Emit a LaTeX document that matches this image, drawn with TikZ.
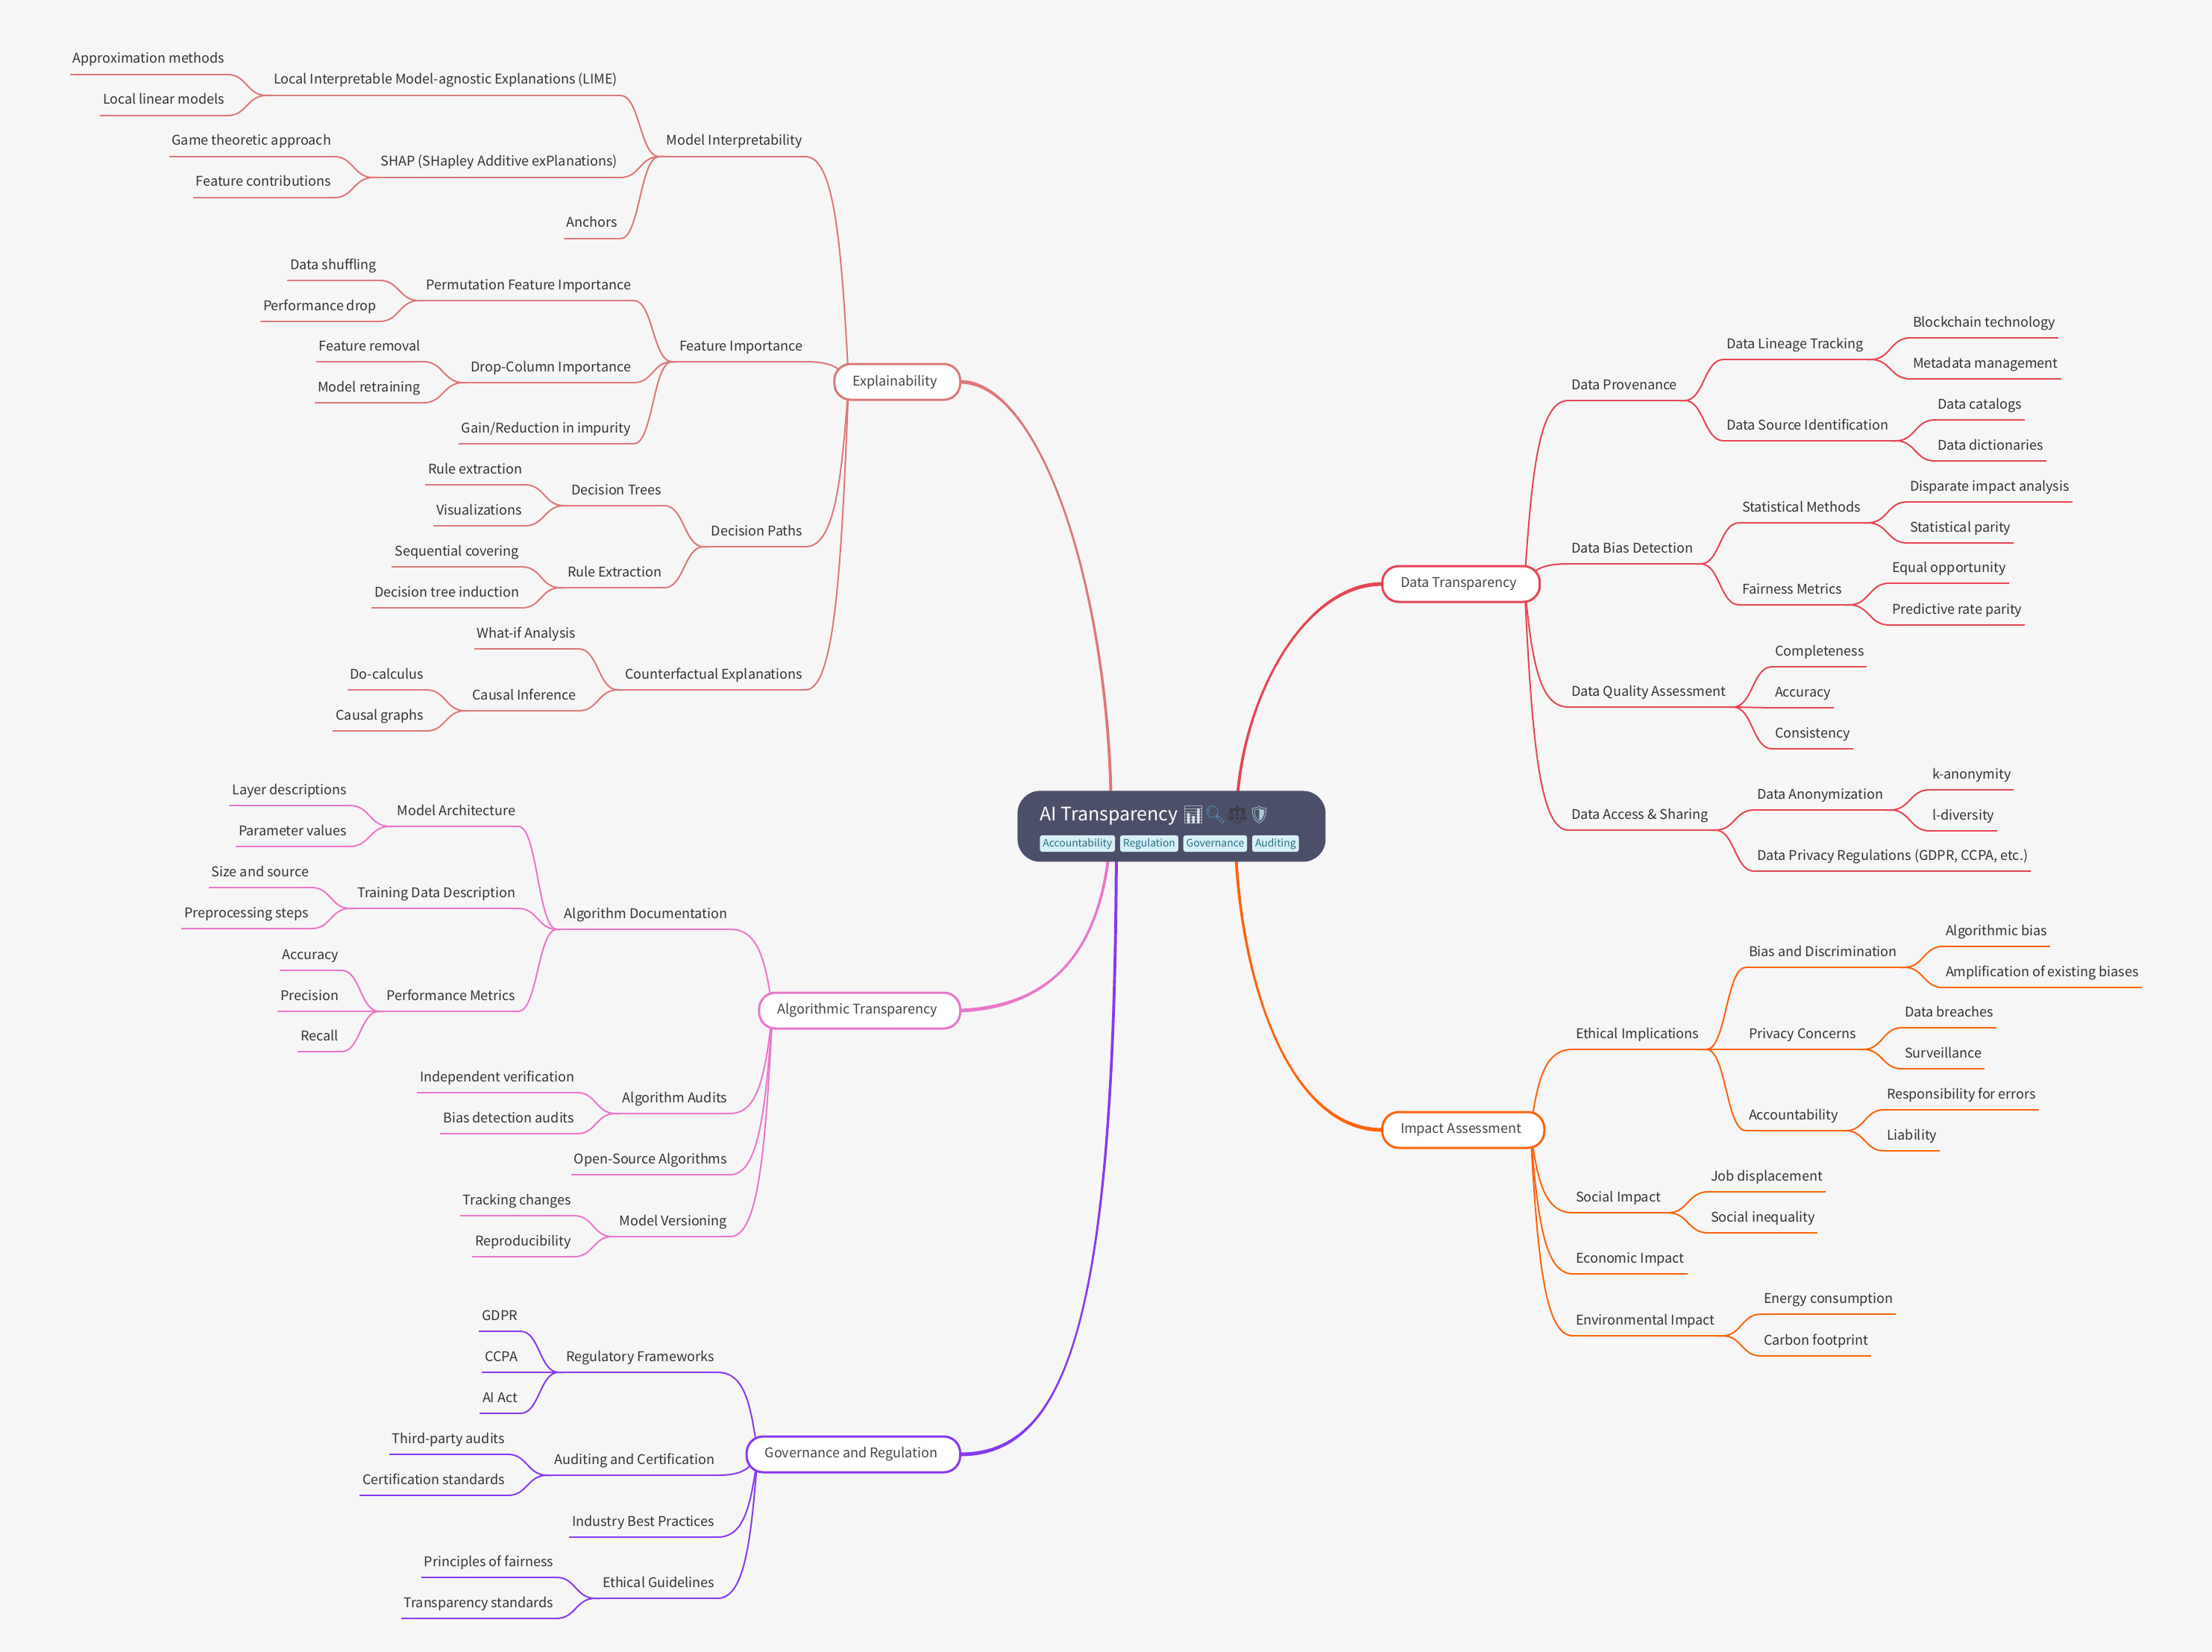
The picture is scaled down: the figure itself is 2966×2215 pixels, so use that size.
\documentclass[tikz,border=0pt]{standalone}
\usepackage{fontspec}
\setmainfont{Noto Sans CJK SC}
\newfontfamily\emojifont{Noto Emoji}
\usetikzlibrary{positioning,calc}
\definecolor{pagebg}{HTML}{F6F6F6}
\definecolor{rootbg}{HTML}{4C4F69}
\definecolor{flamingo}{HTML}{DD7878}
\definecolor{pink}{HTML}{EA76CB}
\definecolor{mauve}{HTML}{8839EF}
\definecolor{maroon}{HTML}{E64553}
\definecolor{peach}{HTML}{FE640B}
\definecolor{itemink}{HTML}{333333}
\definecolor{topicink}{HTML}{444446}
\definecolor{tagbg}{HTML}{D6F0F8}
\definecolor{tagink}{HTML}{276F86}
\definecolor{chartcol}{HTML}{DDE6EC}
\definecolor{lenscol}{HTML}{4F94C8}
\definecolor{scalecol}{HTML}{33333A}
\definecolor{shieldcol}{HTML}{A9CCD6}
\tikzset{lnode/.style={anchor=south east,text=itemink,inner xsep=2pt,inner ysep=0pt,outer sep=0pt,
	 font=\fontsize{9}{11}\selectfont,text height=8pt,text depth=7.5pt,line width=1pt,
	 append after command={(\tikzlastnode.south west) edge[line width=1pt] (\tikzlastnode.south east)}},
	 rnode/.style={lnode,anchor=south west},
	 topic/.style={rectangle,rounded corners=11pt,draw,fill=white,line width=1.5pt,text=topicink,outer sep=0pt,
	 inner xsep=13.75pt,minimum height=24pt,font=\fontsize{9}{11}\selectfont,
	 execute at begin node=\kern-1.5pt,execute at end node=\kern1.5pt},
	 tagnode/.style={rectangle,rounded corners=1.5pt,fill=tagbg,text=tagink,inner xsep=2pt,inner ysep=0pt,
	 minimum height=11pt,text height=5.5pt,text depth=1.5pt,font=\fontsize{6.95}{9}\selectfont},
	 slink/.style={line width=1pt,to path={let \p1=(\tikztostart),\p2=(\tikztotarget) in
	 -- ({\x1+#1},\y1) .. controls ({(\x1+#1+\x2)/2},\y1) and ({(\x1+#1+\x2)/2},\y2) .. (\tikztotarget)}},
	 llink/.style={slink=-3pt},
	 rlink/.style={slink=3pt},
	 vlink/.style={line width=1pt,to path={let \p1=(\tikztostart),\p2=(\tikztotarget) in
	 .. controls ({\x1+.17*(\x2-\x1)},{\y1+.62*(\y2-\y1)}) and ({\x2+.67*(\x1-\x2)},\y2) .. (\tikztotarget)}},
	 node distance = 3pt
	 }
\begin{document}
\begin{tikzpicture}[x=0.5pt,y=-0.5pt]
\fill[pagebg] (0,0) rectangle (2966,2215);
\useasboundingbox (0,0) rectangle (2966,2215);

% Explainability
\begin{scope}[color=flamingo]
	\coordinate (explorg) at (1138,512);
	\node[lnode] (approx) at (305,100) {Approximation methods};
	\node[lnode] (linear) at (305,155) {Local linear models};
	\node[lnode] (lime) at (832,128) {Local Interpretable Model-agnostic Explanations (LIME)};
	\node[lnode] (game) at (448,210) {Game theoretic approach};
	\node[lnode] (contrib) at (448,265) {Feature contributions};
	\node[lnode] (shap) at (832,238) {SHAP (SHapley Additive exPlanations)};
	\node[lnode] (anchors) at (832,320) {Anchors};
	\node[lnode] (interp) at (1080,210) {Model Interpretability};
	\node[lnode] (shuffle) at (509,376) {Data shuffling};
	\node[lnode] (drop) at (509,431) {Performance drop};
	\node[lnode] (perm) at (850,403) {Permutation Feature Importance};
	\node[lnode] (removal) at (568,485) {Feature removal};
	\node[lnode] (retrain) at (568,540) {Model retraining};
	\node[lnode] (dropcol) at (850,513) {Drop-Column Importance};
	\node[lnode] (gain) at (850,595) {Gain/Reduction in impurity};
	\node[lnode] (featimp) at (1080,485) {Feature Importance};
	\node[lnode] (ruleext) at (704,650) {Rule extraction};
	\node[lnode] (visual) at (704,705) {Visualizations};
	\node[lnode] (dectrees) at (891,678) {Decision Trees};
	\node[lnode] (seqcov) at (700,760) {Sequential covering};
	\node[lnode] (induct) at (700,815) {Decision tree induction};
	\node[lnode] (rules) at (891,788) {Rule Extraction};
	\node[lnode] (paths) at (1080,733) {Decision Paths};
	\node[lnode] (whatif) at (776,870) {What-if Analysis};
	\node[lnode] (docalc) at (572,925) {Do-calculus};
	\node[lnode] (graphs) at (572,980) {Causal graphs};
	\node[lnode] (causal) at (776,953) {Causal Inference};
	\node[lnode] (counter) at (1080,925) {Counterfactual Explanations};
	\draw[llink] (lime.south west) to (approx.south east);
	\draw[llink] (lime.south west) to (linear.south east);
	\draw[llink] (shap.south west) to (game.south east);
	\draw[llink] (shap.south west) to (contrib.south east);
	\draw[llink] (interp.south west) to (lime.south east);
	\draw[llink] (interp.south west) to (shap.south east);
	\draw[llink] (interp.south west) to (anchors.south east);
	\draw[llink] (perm.south west) to (shuffle.south east);
	\draw[llink] (perm.south west) to (drop.south east);
	\draw[llink] (dropcol.south west) to (removal.south east);
	\draw[llink] (dropcol.south west) to (retrain.south east);
	\draw[llink] (featimp.south west) to (perm.south east);
	\draw[llink] (featimp.south west) to (dropcol.south east);
	\draw[llink] (featimp.south west) to (gain.south east);
	\draw[llink] (dectrees.south west) to (ruleext.south east);
	\draw[llink] (dectrees.south west) to (visual.south east);
	\draw[llink] (rules.south west) to (seqcov.south east);
	\draw[llink] (rules.south west) to (induct.south east);
	\draw[llink] (paths.south west) to (dectrees.south east);
	\draw[llink] (paths.south west) to (rules.south east);
	\draw[llink] (causal.south west) to (docalc.south east);
	\draw[llink] (causal.south west) to (graphs.south east);
	\draw[llink] (counter.south west) to (whatif.south east);
	\draw[llink] (counter.south west) to (causal.south east);
	\draw[vlink] (explorg) to (interp.south east);
	\draw[vlink] (explorg) to (featimp.south east);
	\draw[vlink] (explorg) to (paths.south east);
	\draw[vlink] (explorg) to (counter.south east);
	\node[topic,anchor=east] (expl) at (1287.5,512) {Explainability};
\end{scope}

% Algorithmic Transparency
\begin{scope}[color=pink]
	\coordinate (algoorg) at (1036,1355);
	\node[lnode] (layer) at (469,1080) {Layer descriptions};
	\node[lnode] (param) at (469,1135) {Parameter values};
	\node[lnode] (arch) at (695,1108) {Model Architecture};
	\node[lnode] (size) at (418,1190) {Size and source};
	\node[lnode] (prep) at (418,1245) {Preprocessing steps};
	\node[lnode] (train) at (695,1218) {Training Data Description};
	\node[lnode] (acc) at (458,1301) {Accuracy};
	\node[lnode] (prec) at (458,1356) {Precision};
	\node[lnode] (recall) at (458,1410) {Recall};
	\node[lnode] (perf) at (695,1356) {Performance Metrics};
	\node[lnode] (algodoc) at (979,1246) {Algorithm Documentation};
	\node[lnode] (indep) at (774,1465) {Independent verification};
	\node[lnode] (biasaud) at (774,1520) {Bias detection audits};
	\node[lnode] (audits) at (979,1493) {Algorithm Audits};
	\node[lnode] (opensrc) at (979,1575) {Open-Source Algorithms};
	\node[lnode] (track) at (770,1630) {Tracking changes};
	\node[lnode] (repro) at (770,1685) {Reproducibility};
	\node[lnode] (version) at (979,1658) {Model Versioning};
	\draw[llink] (arch.south west) to (layer.south east);
	\draw[llink] (arch.south west) to (param.south east);
	\draw[llink] (train.south west) to (size.south east);
	\draw[llink] (train.south west) to (prep.south east);
	\draw[llink] (perf.south west) to (acc.south east);
	\draw[llink] (perf.south west) to (prec.south east);
	\draw[llink] (perf.south west) to (recall.south east);
	\draw[llink] (algodoc.south west) to (arch.south east);
	\draw[llink] (algodoc.south west) to (train.south east);
	\draw[llink] (algodoc.south west) to (perf.south east);
	\draw[llink] (audits.south west) to (indep.south east);
	\draw[llink] (audits.south west) to (biasaud.south east);
	\draw[llink] (version.south west) to (track.south east);
	\draw[llink] (version.south west) to (repro.south east);
	\draw[vlink] (algoorg) to (algodoc.south east);
	\draw[vlink] (algoorg) to (audits.south east);
	\draw[vlink] (algoorg) to (opensrc.south east);
	\draw[vlink] (algoorg) to (version.south east);
	\node[topic,anchor=east] (algo) at (1287.5,1355) {Algorithmic Transparency};
\end{scope}

% Governance and Regulation
\begin{scope}[color=mauve]
	\coordinate (govorg) at (1016,1950);
	\node[lnode] (gdpr) at (698,1785) {GDPR};
	\node[lnode] (ccpa) at (698,1840) {CCPA};
	\node[lnode] (aiact) at (698,1895) {AI Act};
	\node[lnode] (frame) at (962,1840) {Regulatory Frameworks};
	\node[lnode] (third) at (681,1950) {Third-party audits};
	\node[lnode] (certstd) at (681,2005) {Certification standards};
	\node[lnode] (audcert) at (962,1978) {Auditing and Certification};
	\node[lnode] (best) at (962,2061) {Industry Best Practices};
	\node[lnode] (fair) at (746,2115) {Principles of fairness};
	\node[lnode] (transp) at (746,2170) {Transparency standards};
	\node[lnode] (ethical) at (962,2143) {Ethical Guidelines};
	\draw[llink] (frame.south west) to (gdpr.south east);
	\draw[llink] (frame.south west) to (ccpa.south east);
	\draw[llink] (frame.south west) to (aiact.south east);
	\draw[llink] (audcert.south west) to (third.south east);
	\draw[llink] (audcert.south west) to (certstd.south east);
	\draw[llink] (ethical.south west) to (fair.south east);
	\draw[llink] (ethical.south west) to (transp.south east);
	\draw[vlink] (govorg) to (frame.south east);
	\draw[vlink] (govorg) to (audcert.south east);
	\draw[vlink] (govorg) to (best.south east);
	\draw[vlink] (govorg) to (ethical.south east);
	\node[topic,anchor=east] (gov) at (1287.5,1950) {Governance and Regulation};
\end{scope}

% Data Transparency
\begin{scope}[color=maroon]
	\coordinate (dataorg) at (2044,783);
	\node[rnode] (prov) at (2103,537) {Data Provenance};
	\node[rnode] (lineage) at (2311,482) {Data Lineage Tracking};
	\node[rnode] (source) at (2311,591) {Data Source Identification};
	\node[rnode] (chain) at (2561,453) {Blockchain technology};
	\node[rnode] (meta) at (2561,508) {Metadata management};
	\node[rnode] (catalog) at (2594,563) {Data catalogs};
	\node[rnode] (dict) at (2594,618) {Data dictionaries};
	\node[rnode] (biasdet) at (2103,756) {Data Bias Detection};
	\node[rnode] (stat) at (2332,701) {Statistical Methods};
	\node[rnode] (fairm) at (2332,811) {Fairness Metrics};
	\node[rnode] (dispar) at (2557,673) {Disparate impact analysis};
	\node[rnode] (parity) at (2557,728) {Statistical parity};
	\node[rnode] (equal) at (2533,782) {Equal opportunity};
	\node[rnode] (predict) at (2533,838) {Predictive rate parity};
	\node[rnode] (quality) at (2103,948) {Data Quality Assessment};
	\node[rnode] (complete) at (2376,894) {Completeness};
	\node[rnode] (accur) at (2376,949) {Accuracy};
	\node[rnode] (consist) at (2376,1004) {Consistency};
	\node[rnode] (access) at (2103,1113) {Data Access \& Sharing};
	\node[rnode] (anon) at (2352,1086) {Data Anonymization};
	\node[rnode] (privreg) at (2352,1168) {Data Privacy Regulations (GDPR, CCPA, etc.)};
	\node[rnode] (kanon) at (2587,1059) {k-anonymity};
	\node[rnode] (ldiv) at (2587,1114) {l-diversity};
	\draw[rlink] (prov.south east) to (lineage.south west);
	\draw[rlink] (prov.south east) to (source.south west);
	\draw[rlink] (lineage.south east) to (chain.south west);
	\draw[rlink] (lineage.south east) to (meta.south west);
	\draw[rlink] (source.south east) to (catalog.south west);
	\draw[rlink] (source.south east) to (dict.south west);
	\draw[rlink] (biasdet.south east) to (stat.south west);
	\draw[rlink] (biasdet.south east) to (fairm.south west);
	\draw[rlink] (stat.south east) to (dispar.south west);
	\draw[rlink] (stat.south east) to (parity.south west);
	\draw[rlink] (fairm.south east) to (equal.south west);
	\draw[rlink] (fairm.south east) to (predict.south west);
	\draw[rlink] (quality.south east) to (complete.south west);
	\draw[rlink] (quality.south east) to (accur.south west);
	\draw[rlink] (quality.south east) to (consist.south west);
	\draw[rlink] (access.south east) to (anon.south west);
	\draw[rlink] (access.south east) to (privreg.south west);
	\draw[rlink] (anon.south east) to (kanon.south west);
	\draw[rlink] (anon.south east) to (ldiv.south west);
	\draw[vlink] (dataorg) to (prov.south west);
	\draw[vlink] (dataorg) to (biasdet.south west);
	\draw[vlink] (dataorg) to (quality.south west);
	\draw[vlink] (dataorg) to (access.south west);
	\node[topic,anchor=west] (data) at (1853.5,783) {Data Transparency};
\end{scope}

% Impact Assessment
\begin{scope}[color=peach]
	\coordinate (imporg) at (2052,1515);
	\node[rnode] (ethics) at (2109,1407) {Ethical Implications};
	\node[rnode] (biasdis) at (2341,1297) {Bias and Discrimination};
	\node[rnode] (privacy) at (2341,1407) {Privacy Concerns};
	\node[rnode] (account) at (2341,1516) {Accountability};
	\node[rnode] (algbias) at (2605,1269) {Algorithmic bias};
	\node[rnode] (amplify) at (2605,1324) {Amplification of existing biases};
	\node[rnode] (breach) at (2550,1378) {Data breaches};
	\node[rnode] (surveil) at (2550,1433) {Surveillance};
	\node[rnode] (respons) at (2526,1488) {Responsibility for errors};
	\node[rnode] (liable) at (2526,1543) {Liability};
	\node[rnode] (social) at (2109,1626) {Social Impact};
	\node[rnode] (jobs) at (2290,1598) {Job displacement};
	\node[rnode] (inequal) at (2290,1653) {Social inequality};
	\node[rnode] (econ) at (2109,1708) {Economic Impact};
	\node[rnode] (environ) at (2109,1791) {Environmental Impact};
	\node[rnode] (energy) at (2361,1762) {Energy consumption};
	\node[rnode] (carbon) at (2361,1818) {Carbon footprint};
	\draw[rlink] (ethics.south east) to (biasdis.south west);
	\draw[rlink] (ethics.south east) to (privacy.south west);
	\draw[rlink] (ethics.south east) to (account.south west);
	\draw[rlink] (biasdis.south east) to (algbias.south west);
	\draw[rlink] (biasdis.south east) to (amplify.south west);
	\draw[rlink] (privacy.south east) to (breach.south west);
	\draw[rlink] (privacy.south east) to (surveil.south west);
	\draw[rlink] (account.south east) to (respons.south west);
	\draw[rlink] (account.south east) to (liable.south west);
	\draw[rlink] (social.south east) to (jobs.south west);
	\draw[rlink] (social.south east) to (inequal.south west);
	\draw[rlink] (environ.south east) to (energy.south west);
	\draw[rlink] (environ.south east) to (carbon.south west);
	\draw[vlink] (imporg) to (ethics.south west);
	\draw[vlink] (imporg) to (social.south west);
	\draw[vlink] (imporg) to (econ.south west);
	\draw[vlink] (imporg) to (environ.south west);
	\node[topic,anchor=west] (impact) at (1853.5,1515) {Impact Assessment};
\end{scope}

% main branches, wider at the topic end
\fill[flamingo] ([yshift=1.25pt]expl.east) .. controls +(110,0) and (1492,800) .. (1492,1100) -- (1488,1100) .. controls (1488,800) and +(110,0) .. ([yshift=-1.25pt]expl.east) -- cycle;
\fill[pink] ([yshift=1.25pt]algo.east) .. controls +(110,-5) and (1482,1290) .. (1488,1100) -- (1492,1100) .. controls (1486,1290) and +(110,-5) .. ([yshift=-1.25pt]algo.east) -- cycle;
\fill[mauve] ([yshift=1.25pt]gov.east) .. controls +(150,0) and (1495,1750) .. (1495,1100) -- (1499,1100) .. controls (1499,1750) and +(150,0) .. ([yshift=-1.25pt]gov.east) -- cycle;
\fill[maroon] ([yshift=1.25pt]data.west) .. controls +(-110,0) and (1656,950) .. (1656,1100) -- (1660,1100) .. controls (1660,950) and +(-110,0) .. ([yshift=-1.25pt]data.west) -- cycle;
\fill[peach] ([yshift=1.25pt]impact.west) .. controls +(-130,0) and (1658,1300) .. (1658,1100) -- (1654,1100) .. controls (1654,1300) and +(-130,0) .. ([yshift=-1.25pt]impact.west) -- cycle;

\node[rectangle,rounded corners=15pt,fill=rootbg,anchor=north west,minimum width=206.5pt,minimum height=47.5pt,inner sep=0pt] (root) at (1364,1060) {};
\node[anchor=base west,inner xsep=0pt,text=white,font=\fontsize{12.5}{15}\selectfont] (title) at (1394,1100)
	{AI Transparency {\emojifont\fontsize{11.6}{15}\selectfont\color{chartcol}📊\color{lenscol}🔍\color{scalecol}⚖\color{shieldcol}🛡}};
\node[tagnode,anchor=west] (tagacc) at (1394,1131) {Accountability};
\node[tagnode] (tagreg) [right=of tagacc] {Regulation};
\node[tagnode] (taggov) [right=of tagreg] {Governance};
\node[tagnode] (tagaud) [right=of taggov] {Auditing};
\end{tikzpicture}
\end{document}
